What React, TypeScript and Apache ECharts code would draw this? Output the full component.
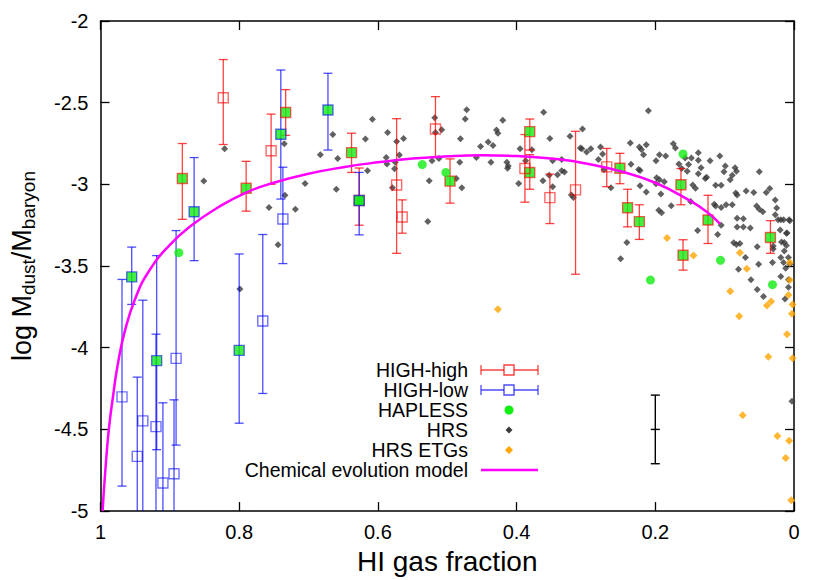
import React, { useEffect, useRef } from 'react';
import * as echarts from 'echarts';

const FONT = 'Liberation Sans, Arial, Helvetica, sans-serif';
const RED = 'rgba(255,0,0,0.75)';
const BLUE = 'rgba(0,0,255,0.7)';
const GREEN = '#11ee11';
const HRS_COLOR = '#3a3a3a';
const ETG_COLOR = '#ffa500';
const MODEL_COLOR = '#ff00ff';
const Y_MIN = -5;
const Y_MAX = -2;

// [HI fraction, log Mdust/Mbaryon, lower, upper, also HAPLESS (1) or not (0)]
const highHigh: number[][] = [
  [0.823, -2.47, -2.756, -2.236, 0],
  [0.882, -2.964, -3.214, -2.75, 1],
  [0.79, -3.024, -3.164, -2.859, 1],
  [0.754, -2.794, -3.0, -2.57, 0],
  [0.733, -2.56, -2.7, -2.42, 1],
  [0.638, -2.806, -2.927, -2.687, 1],
  [0.627, -3.099, -3.25, -2.9, 1],
  [0.573, -3.004, -3.422, -2.598, 0],
  [0.565, -3.2, -3.299, -3.095, 0],
  [0.517, -2.661, -2.83, -2.463, 0],
  [0.496, -2.98, -3.115, -2.844, 1],
  [0.381, -2.677, -2.79, -2.6, 1],
  [0.381, -2.927, -3.03, -2.818, 1],
  [0.388, -2.903, -3.109, -2.695, 0],
  [0.352, -3.081, -3.24, -2.937, 0],
  [0.315, -3.034, -3.55, -2.675, 0],
  [0.27, -2.893, -3.014, -2.78, 0],
  [0.251, -2.901, -2.996, -2.81, 1],
  [0.24, -3.143, -3.26, -3.03, 1],
  [0.223, -3.228, -3.337, -3.125, 1],
  [0.163, -3.002, -3.125, -2.903, 1],
  [0.16, -3.434, -3.525, -3.339, 1],
  [0.124, -3.218, -3.362, -3.067, 1],
  [0.034, -3.325, -3.422, -3.222, 1],
];

const highLow: number[][] = [
  [0.969, -4.301, -4.847, -3.582, 0],
  [0.955, -3.566, -3.735, -3.384, 1],
  [0.947, -4.665, -5.4, -4.18, 0],
  [0.939, -4.448, -5.4, -3.709, 0],
  [0.919, -4.079, -4.624, -3.436, 1],
  [0.92, -4.483, -5.4, -3.917, 0],
  [0.91, -4.828, -5.4, -4.337, 0],
  [0.891, -4.065, -4.596, -3.283, 0],
  [0.894, -4.771, -5.4, -4.319, 0],
  [0.8, -4.016, -4.462, -3.426, 1],
  [0.766, -3.836, -4.28, -3.307, 0],
  [0.865, -3.168, -3.467, -2.836, 1],
  [0.74, -2.693, -3.09, -2.3, 1],
  [0.737, -3.212, -3.485, -2.895, 0],
  [0.672, -2.545, -2.79, -2.32, 1],
  [0.627, -3.099, -3.309, -2.927, 1],
];

const hapless: number[][] = [
  [0.887, -3.418], [0.536, -2.879], [0.502, -2.927], [0.16, -2.814],
  [0.106, -3.465], [0.207, -3.586], [0.031, -3.614],
];

const hrs: number[][] = [
  [0.851, -2.98], [0.821, -2.782], [0.735, -2.752], [0.665, -2.695], [0.683, -2.818],
  [0.658, -2.842], [0.705, -2.994], [0.66, -3.03], [0.734, -3.067], [0.757, -3.141],
  [0.719, -3.153], [0.744, -3.37], [0.799, -3.641], [0.608, -2.602], [0.618, -2.723],
  [0.615, -2.917], [0.586, -2.683], [0.588, -2.835], [0.587, -2.875], [0.573, -2.738],
  [0.563, -2.719], [0.569, -2.82], [0.575, -2.865], [0.576, -2.905], [0.579, -3.02],
  [0.518, -2.592], [0.517, -2.683], [0.508, -2.665], [0.522, -2.856], [0.512, -2.842],
  [0.526, -2.978], [0.528, -3.228], [0.472, -2.544], [0.474, -2.6], [0.481, -2.721],
  [0.482, -2.865], [0.487, -2.964], [0.479, -3.02], [0.458, -2.835], [0.452, -2.768],
  [0.441, -2.741], [0.434, -2.762], [0.42, -2.608], [0.429, -2.667], [0.427, -2.687],
  [0.437, -2.865], [0.414, -2.865], [0.412, -2.887], [0.413, -2.901], [0.395, -2.782],
  [0.387, -2.855], [0.397, -2.994], [0.378, -2.788], [0.361, -2.559], [0.352, -2.719],
  [0.348, -2.855], [0.362, -2.978], [0.348, -3.014], [0.353, -2.944], [0.341, -2.941],
  [0.335, -2.917], [0.331, -2.925], [0.335, -2.848], [0.323, -2.705], [0.321, -3.065],
  [0.318, -3.081], [0.308, -2.778], [0.305, -2.661], [0.306, -2.782], [0.299, -2.802],
  [0.293, -2.782], [0.279, -2.772], [0.276, -2.814], [0.282, -2.848], [0.274, -2.911],
  [0.264, -3.02], [0.236, -2.747], [0.235, -2.877], [0.223, -2.772], [0.22, -2.786],
  [0.213, -2.758], [0.217, -2.818], [0.21, -2.55], [0.199, -2.856], [0.194, -2.818],
  [0.185, -2.826], [0.224, -2.909], [0.222, -2.915], [0.198, -2.959], [0.194, -2.972],
  [0.187, -2.984], [0.222, -3.008], [0.213, -3.047], [0.199, -2.996], [0.192, -3.059],
  [0.195, -3.159], [0.191, -3.174], [0.177, -3.131], [0.174, -2.752], [0.171, -2.778],
  [0.166, -2.875], [0.162, -2.903], [0.157, -2.838], [0.152, -2.879], [0.154, -2.919],
  [0.148, -2.838], [0.138, -2.806], [0.138, -2.853], [0.134, -2.899], [0.138, -2.935],
  [0.146, -3.004], [0.142, -3.024], [0.149, -3.105], [0.121, -2.855], [0.126, -2.956],
  [0.128, -2.964], [0.113, -3.006], [0.105, -3.006], [0.107, -2.826], [0.099, -2.887],
  [0.101, -2.923], [0.089, -2.944], [0.085, -2.899], [0.083, -2.919], [0.05, -2.923],
  [0.084, -3.053], [0.082, -3.065], [0.069, -3.041], [0.058, -3.05], [0.04, -3.05],
  [0.035, -3.026], [0.027, -3.095], [0.115, -3.121], [0.113, -3.133], [0.105, -3.141],
  [0.098, -3.125], [0.089, -3.125], [0.082, -3.208], [0.082, -3.261], [0.073, -3.21],
  [0.073, -3.261], [0.063, -3.267], [0.054, -3.133], [0.05, -3.152], [0.045, -3.168],
  [0.025, -3.145], [0.023, -3.216], [0.019, -3.216], [0.015, -3.216], [0.007, -3.216],
  [0.02, -3.279], [0.011, -3.299], [0.018, -3.353], [0.014, -3.356], [0.011, -3.374],
  [0.03, -3.378], [0.03, -3.396], [0.031, -3.479], [0.019, -3.448], [0.015, -3.479],
  [0.008, -3.448], [0.139, -3.283], [0.11, -3.307], [0.105, -3.25], [0.087, -3.358],
  [0.083, -3.368], [0.078, -3.362], [0.07, -3.448], [0.053, -3.382], [0.08, -3.519],
  [0.051, -3.489], [0.062, -3.584], [0.053, -3.644], [0.044, -3.687], [0.019, -3.564],
  [0.008, -3.584], [0.241, -3.356], [0.25, -3.456], [0.006, -3.222], [0.01, -3.297],
  [0.014, -3.408], [0.006, -3.489], [0.012, -3.513], [0.013, -3.701], [0.003, -4.327],
  [0.008, -3.63], [0.092, -2.972], [0.027, -3.186],
];

const hrsEtg: number[][] = [
  [0.183, -3.329], [0.145, -3.435], [0.078, -3.418], [0.068, -3.517], [0.092, -3.655],
  [0.039, -3.741], [0.033, -3.717], [0.079, -3.808], [0.01, -3.917], [0.037, -4.055],
  [0.002, -4.065], [0.074, -4.414], [0.024, -4.541], [0.007, -4.57], [0.012, -4.675],
  [0.004, -4.933], [0.006, -3.586], [0.008, -3.677], [0.002, -3.735], [0.003, -3.792],
  [0.427, -3.764], [0.006, -3.479],
];

const model: number[][] = [
  [0.997, -5.0], [0.993, -4.75], [0.988, -4.5], [0.982, -4.3], [0.975, -4.1],
  [0.965, -3.9], [0.95, -3.7], [0.93, -3.53], [0.9, -3.37], [0.87, -3.255],
  [0.83, -3.14], [0.79, -3.05], [0.75, -2.99], [0.7, -2.935], [0.65, -2.895],
  [0.6, -2.865], [0.55, -2.842], [0.5, -2.828], [0.45, -2.822], [0.4, -2.826],
  [0.35, -2.842], [0.3, -2.872], [0.25, -2.92], [0.2, -2.99], [0.15, -3.1],
  [0.125, -3.17], [0.107, -3.24],
];

const typicalError: number[][] = [[0.2, -4.5, -4.71, -4.29]];

const legendLabels = ['HIGH-high', 'HIGH-low', 'HAPLESS', 'HRS', 'HRS ETGs', 'Chemical evolution model'];

function errorBars(data: number[][], color: string, lineWidth: number, mid: boolean, z: number) {
  return {
    type: 'custom',
    data: data.map((d) => [d[0], d[1], d[2], d[3]]),
    encode: { x: 0, y: 1 },
    silent: true,
    z,
    renderItem: (_params: any, api: any) => {
      const x = api.value(0);
      const lo = api.value(2);
      const hi = api.value(3);
      const top = api.coord([x, Math.min(hi, Y_MAX)]);
      const bot = api.coord([x, Math.max(lo, Y_MIN)]);
      const w = 4.5;
      const style = { stroke: color, lineWidth, fill: 'none' };
      const children: any[] = [
        { type: 'line', shape: { x1: top[0], y1: top[1], x2: bot[0], y2: bot[1] }, style },
      ];
      if (hi <= Y_MAX) children.push({ type: 'line', shape: { x1: top[0] - w, y1: top[1], x2: top[0] + w, y2: top[1] }, style });
      if (lo >= Y_MIN) children.push({ type: 'line', shape: { x1: bot[0] - w, y1: bot[1], x2: bot[0] + w, y2: bot[1] }, style });
      if (mid) {
        const m = api.coord([x, api.value(1)]);
        children.push({ type: 'line', shape: { x1: m[0] - w, y1: m[1], x2: m[0] + w, y2: m[1] }, style });
      }
      return { type: 'group', children };
    },
  };
}

function squares(data: number[][], border: string, z: number) {
  return {
    type: 'scatter',
    symbol: 'rect',
    symbolSize: 10,
    silent: true,
    z,
    data: data.map((d) => ({
      value: [d[0], d[1]],
      itemStyle: { color: d[4] ? GREEN : 'rgba(0,0,0,0)', borderColor: border, borderWidth: 1.4 },
    })),
  };
}

function buildLegend() {
  const tx = 468;
  const ys = [370, 390, 410, 430, 450, 470];
  const sx = 509;
  const x1 = 481;
  const x2 = 538;
  const els: any[] = [];
  legendLabels.forEach((t, i) => {
    els.push({
      type: 'text',
      x: tx,
      y: ys[i],
      style: { text: t, fontSize: 19.5, lineHeight: 19, fontFamily: FONT, fill: '#000', align: 'right', verticalAlign: 'middle' },
    });
  });
  [[RED, ys[0]], [BLUE, ys[1]]].forEach(([c, y]: any) => {
    const st = { stroke: c, lineWidth: 1.3 };
    els.push({ type: 'line', shape: { x1, y1: y, x2, y2: y }, style: st });
    els.push({ type: 'line', shape: { x1, y1: y - 5, x2: x1, y2: y + 5 }, style: st });
    els.push({ type: 'line', shape: { x1: x2, y1: y - 5, x2, y2: y + 5 }, style: st });
    els.push({ type: 'rect', shape: { x: sx - 5, y: y - 5, width: 10, height: 10 }, style: { stroke: c, fill: '#fff', lineWidth: 1.4 } });
  });
  els.push({ type: 'circle', shape: { cx: sx, cy: ys[2], r: 4.5 }, style: { fill: GREEN } });
  els.push({ type: 'polygon', shape: { points: [[sx, ys[3] - 3.5], [sx + 3.5, ys[3]], [sx, ys[3] + 3.5], [sx - 3.5, ys[3]]] }, style: { fill: HRS_COLOR } });
  els.push({ type: 'polygon', shape: { points: [[sx, ys[4] - 4], [sx + 4, ys[4]], [sx, ys[4] + 4], [sx - 4, ys[4]]] }, style: { fill: ETG_COLOR } });
  els.push({ type: 'line', shape: { x1, y1: ys[5], x2, y2: ys[5] }, style: { stroke: MODEL_COLOR, lineWidth: 2.5 } });
  return els;
}

export default function App() {
  const ref = useRef<HTMLDivElement>(null);
  useEffect(() => {
    document.body.style.margin = '0';
    if (!ref.current) return;
    const chart = echarts.init(ref.current, undefined, { renderer: 'svg' });
    const axisCommon = {
      type: 'value',
      axisLine: { show: true, onZero: false, lineStyle: { color: '#000', width: 1.5 } },
      axisTick: { show: true, inside: true, length: 9, lineStyle: { color: '#000', width: 1.3 } },
      splitLine: { show: false },
    };
    chart.setOption({
      animation: false,
      backgroundColor: '#fff',
      grid: { left: 99, top: 21, width: 695, height: 495, containLabel: false },
      xAxis: [
        {
          ...axisCommon,
          min: 0, max: 1, interval: 0.2, inverse: true, position: 'bottom',
          name: 'HI gas fraction', nameLocation: 'middle', nameGap: 34,
          nameTextStyle: { fontSize: 28, fontFamily: FONT, color: '#000' },
          axisLabel: { fontSize: 20, fontFamily: FONT, color: '#000', margin: 11 },
        },
        {
          ...axisCommon,
          min: 0, max: 1, interval: 0.2, inverse: true, position: 'top',
          axisLabel: { show: false },
        },
      ],
      yAxis: [
        {
          ...axisCommon,
          min: Y_MIN, max: Y_MAX, interval: 0.5, position: 'left',
          name: '{a|log M}{b|dust}{a|/M}{b|baryon}',
          nameLocation: 'middle', nameGap: 63, nameRotate: 90,
          nameTextStyle: {
            rich: {
              a: { fontSize: 27, fontFamily: FONT, color: '#000', lineHeight: 32 },
              b: { fontSize: 19, fontFamily: FONT, color: '#000', lineHeight: 16, verticalAlign: 'bottom' },
            },
          },
          axisLabel: { fontSize: 20, fontFamily: FONT, color: '#000', margin: 12 },
        },
        {
          ...axisCommon,
          min: Y_MIN, max: Y_MAX, interval: 0.5, position: 'right',
          axisLabel: { show: false },
        },
      ],
      series: [
        {
          type: 'scatter', name: 'HRS', symbol: 'diamond', symbolSize: 7, silent: true, z: 1,
          itemStyle: { color: HRS_COLOR }, data: hrs,
        },
        {
          type: 'scatter', name: 'HRS ETGs', symbol: 'diamond', symbolSize: 8, silent: true, z: 1,
          itemStyle: { color: ETG_COLOR }, data: hrsEtg,
        },
        errorBars(highHigh, RED, 1.3, false, 2),
        errorBars(highLow, BLUE, 1.3, false, 2),
        errorBars(typicalError, '#000', 1.4, true, 2),
        squares(highHigh, RED, 3),
        squares(highLow, BLUE, 3),
        {
          type: 'scatter', name: 'HAPLESS', symbol: 'circle', symbolSize: 9, silent: true, z: 4,
          itemStyle: { color: GREEN }, data: hapless,
        },
        {
          type: 'line', name: 'Chemical evolution model', data: model, showSymbol: false,
          smooth: 0.5, silent: true, z: 5,
          lineStyle: { color: MODEL_COLOR, width: 2.5 },
        },
      ],
      graphic: buildLegend(),
    });
    return () => chart.dispose();
  }, []);
  return <div ref={ref} style={{ width: 830, height: 580 }} />;
}
